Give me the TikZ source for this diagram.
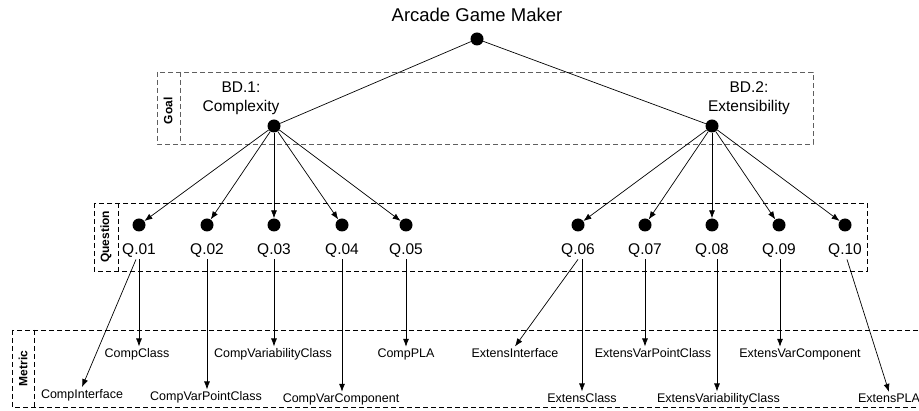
\documentclass[tikz,border=0pt]{standalone}
\usepackage{fontspec}
\setmainfont{Liberation Sans}
\usetikzlibrary{calc,arrows.meta}
\definecolor{goaldash}{RGB}{95,95,95}
\tikzset{
 gqmdot/.style={circle, fill=black, draw=none, minimum size=13pt, inner sep=0pt},
 gqmlabel/.style={font=\fontsize{15.5}{18.7}\selectfont, inner sep=2pt},
 metriclabel/.style={font=\fontsize{12.5}{15}\selectfont, inner sep=2pt, anchor=base},
 levelbox/.style={draw, dash pattern=on 5pt off 3pt, line width=0.8pt},
 levelname/.style={font=\fontsize{12}{14}\selectfont\bfseries, rotate=90, inner sep=0pt},
 gqmlink/.style={line width=0.7pt},
 gqmarrow/.style={gqmlink, -{Latex[length=8pt,width=6pt]}},
}

\begin{document}
\begin{tikzpicture}[x=1pt, y=-1pt]
\useasboundingbox (0,0) rectangle (919,411);
\clip (0,0) rectangle (919,411);
% the three GQM levels, drawn as dashed bands
\draw[levelbox, draw=goaldash] (157,72) rectangle (813,144);
\draw[levelbox, draw=goaldash] (180,72) -- (180,144);
\node[levelname] (goalname) at (168,111) {Goal};
\draw[levelbox] (94,203) rectangle (867,271);
\draw[levelbox] (118,203) -- (118,271);
\node[levelname] (questionname) at (106,237) {Question};
\draw[levelbox] (12,330) rectangle (940,407);
\draw[levelbox] (34,330) -- (34,407);
\node[levelname] (metricname) at (23,368.5) {Metric};

% root and the two goals
\node[font=\fontsize{18.5}{22}\selectfont, anchor=base] (title) at (477,22) {Arcade Game Maker};
\node[gqmdot] (root) at (477,39) {};
\node[gqmdot] (bd1) at (274,126) {};
\node[gqmdot] (bd2) at (712,126) {};
\node[gqmlabel, align=center] (bd1name) at (241,98) {BD.1:\\Complexity};
\node[gqmlabel, align=center] (bd2name) at (749,98) {BD.2:\\Extensibility};
\draw[gqmlink] (root) -- (bd1);
\draw[gqmlink] (root) -- (bd2);

% questions Q.01 .. Q.10
\foreach \x [count=\i] in {139,207,274,342,406,578,645,712,779,845}{
 \node[gqmdot] (qd\i) at (\x,225) {};
 \node[gqmlabel, anchor=base] (q\i) at (\x,254.3) {Q.\ifnum\i<10 0\fi\i};
}
\foreach \i in {1,...,5} \draw[gqmarrow] (bd1) -- (qd\i);
\foreach \i in {6,...,10} \draw[gqmarrow] (bd2) -- (qd\i);

% metrics, two staggered rows
\foreach \m/\txt/\x/\y in {%
 m1/CompInterface/82/398.3, m2/CompClass/137/357.7,
 m3/CompVarPointClass/206/400.7, m4/CompVariabilityClass/273/357.7,
 m5/CompVarComponent/341/402.7, m6/CompPLA/406/357.7,
 m7/ExtensInterface/515/357.7, m8/ExtensClass/582/402.7,
 m9/ExtensVarPointClass/653/357.7, m10/ExtensVariabilityClass/718.5/402.7,
 m11/ExtensVarComponent/800/357.7, m12/ExtensPLA/889/402.7%
}{
 \node[metriclabel] (\m) at (\x,\y) {\txt};
}
% straight down from a question to its metric
\foreach \q/\m/\s in {1/m2/0, 2/m3/0, 3/m4/0, 4/m5/0, 5/m6/0,
  6/m8/4, 7/m9/0, 8/m10/5, 9/m11/1}{
 \path (q\q.south) ++(\s,0) coordinate (qs\q\m);
 \draw[gqmarrow] (qs\q\m) -- (qs\q\m |- \m.north);
}
% slanted ones
\foreach \q/\m/\s in {1/m1/-3, 6/m7/0, 10/m12/2}{
 \path (q\q.south) ++(\s,0) coordinate (qs\q\m);
 \draw[gqmarrow] (qs\q\m) -- (\m.north);
}
\end{tikzpicture}
\end{document}
